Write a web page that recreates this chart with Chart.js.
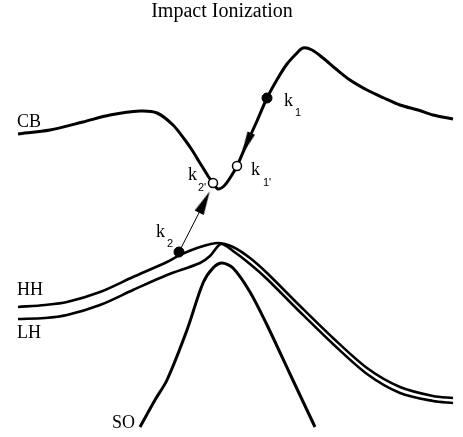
<!DOCTYPE html>
<html>
<head>
<meta charset="utf-8">
<script src="https://cdn.jsdelivr.net/npm/chart.js@4"></script>
<style>
  body { margin: 0; background: #fff; }
  canvas { display: block; }
</style>
</head>
<body>
<canvas id="bands" width="463" height="437"></canvas>
<script>
// Band curves (x = wavevector units, y = energy units, y grows downward)
const cbX = [18, 50, 83, 110, 140, 157, 173, 185, 192, 200, 208, 213, 218, 224, 230, 237, 247, 257, 267, 278, 287, 297, 303, 312, 323, 336, 350, 367, 384, 400, 418, 433, 453];
const cbY = [134, 130, 122, 115, 111, 113, 125, 140, 150, 163, 176, 183, 189, 186, 178, 166, 143, 121, 98, 78, 64, 53, 48, 50, 58, 69, 80, 90, 98, 105, 110, 115, 119];

const hhX = [18, 45, 67, 100, 133, 167, 180, 200, 218, 233, 250, 267, 300, 333, 367, 400, 433, 453];
const hhY = [307, 305, 302, 292, 277, 262, 255, 247, 243, 247, 258, 273, 306, 338, 368, 387, 396, 398];

const lhX = [18, 45, 67, 100, 133, 167, 200, 210, 221, 233, 250, 267, 300, 333, 367, 400, 433, 453];
const lhY = [319, 318, 315, 305, 290, 275, 263, 256, 244, 251, 264, 279, 312, 344, 374, 393, 401, 403];

const soX = [140, 155, 167, 187, 203, 213, 222, 233, 250, 267, 290, 315];
const soY = [427, 400, 380, 330, 283, 268, 263, 268, 292, 325, 374, 427];

// k-states
const filledX = [267, 179];   // k1, k2
const filledY = [98, 252];
const openX = [237, 213];     // k1', k2'
const openY = [166, 183];

// transition k2 -> k2'
const jumpX = [179, 204.5];
const jumpY = [252, 202];

// arrowheads (centre point + direction in degrees clockwise from up)
const headX = [246, 204.5];
const headY = [145, 202];
const headAngle = [203.8, 26.2];

const bandNames = ['CB', 'HH', 'LH', 'SO'];
const bandLabelX = [17, 17, 17, 112];
const bandLabelY = [127, 295, 338, 428];

const kNames = ['k', 'k', 'k', 'k'];
const kSubs = ['1', "1'", "2'", '2'];
const kLabelX = [284, 251, 188, 156];
const kLabelY = [106, 175, 180, 237];
const kSubX = [295, 263, 198, 167];
const kSubY = [116, 186, 191, 247];

const toPts = (xs, ys) => xs.map((x, i) => ({ x: x, y: ys[i] }));

function makeHead(w, h) {
    const c = document.createElement('canvas');
    c.width = w;
    c.height = h;
    const g = c.getContext('2d');
    g.fillStyle = '#000';
    g.beginPath();
    g.moveTo(w / 2, 0);
    g.lineTo(w, h);
    g.lineTo(0, h);
    g.closePath();
    g.fill();
    return c;
}
const headStyles = [makeHead(8, 26), makeHead(10, 24)];

const serif = '"Liberation Serif", "Times New Roman", serif';
const sans = '"Liberation Sans", Arial, sans-serif';

// Labels drawn on top of the plot
const labelPlugin = {
    id: 'labels',
    afterDatasetsDraw(chart) {
        const ctx = chart.ctx;
        const xs = chart.scales.x, ys = chart.scales.y;
        ctx.save();
        ctx.fillStyle = '#000';
        ctx.textBaseline = 'alphabetic';

        ctx.font = '20px ' + serif;
        ctx.textAlign = 'center';
        ctx.fillText('Impact Ionization', 222, 17);

        ctx.textAlign = 'left';
        ctx.font = '18px ' + serif;
        bandNames.forEach((n, i) => {
            ctx.fillText(n, xs.getPixelForValue(bandLabelX[i]), ys.getPixelForValue(bandLabelY[i]));
        });
        kNames.forEach((n, i) => {
            ctx.font = '18px ' + serif;
            ctx.fillText(n, xs.getPixelForValue(kLabelX[i]), ys.getPixelForValue(kLabelY[i]));
            ctx.font = '11px ' + sans;
            ctx.fillText(kSubs[i], xs.getPixelForValue(kSubX[i]), ys.getPixelForValue(kSubY[i]));
        });
        ctx.restore();
    }
};

const line = (xs, ys, w, order) => ({
    data: toPts(xs, ys),
    showLine: true,
    borderColor: '#000',
    borderWidth: w,
    pointRadius: 0,
    tension: 0.3,
    order: order
});

new Chart(document.getElementById('bands'), {
    type: 'scatter',
    data: {
        datasets: [
            {
                data: toPts(openX, openY),
                pointRadius: 4.5,
                pointBackgroundColor: '#fff',
                pointBorderColor: '#000',
                pointBorderWidth: 1.5,
                order: 0
            },
            {
                data: toPts(filledX, filledY),
                pointRadius: 5,
                pointBackgroundColor: '#000',
                pointBorderColor: '#000',
                order: 1
            },
            {
                data: toPts(headX, headY),
                pointStyle: headStyles,
                pointRotation: headAngle,
                pointRadius: 5,
                order: 2
            },
            {
                data: toPts(jumpX, jumpY),
                showLine: true,
                borderColor: '#000',
                borderWidth: 1,
                pointRadius: 0,
                order: 3
            },
            line(cbX, cbY, 3, 4),
            line(hhX, hhY, 2.6, 5),
            line(lhX, lhY, 2.6, 6),
            line(soX, soY, 3, 7)
        ]
    },
    options: {
        responsive: false,
        animation: false,
        layout: { padding: 0, autoPadding: false },
        plugins: {
            legend: { display: false },
            tooltip: { enabled: false },
            title: { display: false }
        },
        scales: {
            x: { type: 'linear', min: 0, max: 463, display: false },
            y: { type: 'linear', min: 0, max: 437, reverse: true, display: false }
        }
    },
    plugins: [labelPlugin]
});
</script>
</body>
</html>
